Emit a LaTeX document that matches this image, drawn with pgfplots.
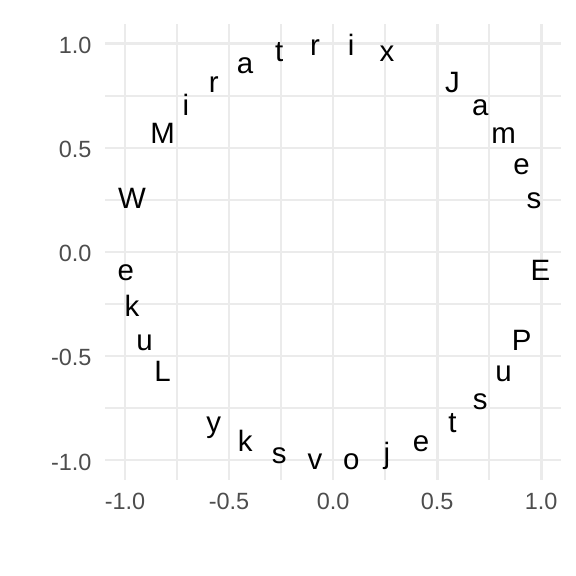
\documentclass[border=0pt]{standalone}
\usepackage{fontspec}
\setmainfont{Liberation Sans}
\usepackage{pgfplots}
\usepackage{pgfplotstable}
\pgfplotsset{compat=1.18}

\definecolor{gridgrey}{HTML}{EBEBEB}
\definecolor{textgrey}{HTML}{4D4D4D}

% Letters of the two names laid out clockwise on the unit circle, 10 degrees apart
\pgfplotstableread{
x y lab
-0.9659 0.2588 W
-0.8192 0.5736 M
-0.7071 0.7071 i
-0.5736 0.8192 r
-0.4226 0.9063 a
-0.2588 0.9659 t
-0.0872 0.9962 r
0.0872 0.9962 i
0.2588 0.9659 x
0.5736 0.8192 J
0.7071 0.7071 a
0.8192 0.5736 m
0.9063 0.4226 e
0.9659 0.2588 s
0.9962 -0.0872 E
0.9063 -0.4226 P
0.8192 -0.5736 u
0.7071 -0.7071 s
0.5736 -0.8192 t
0.4226 -0.9063 e
0.2588 -0.9659 j
0.0872 -0.9962 o
-0.0872 -0.9962 v
-0.2588 -0.9659 s
-0.4226 -0.9063 k
-0.5736 -0.8192 y
-0.8192 -0.5736 L
-0.9063 -0.4226 u
-0.9659 -0.2588 k
-0.9962 -0.0872 e
}\letters

\begin{document}
\begin{tikzpicture}
\begin{axis}[
  at={(0,0)}, anchor=south west,
  width=171pt, height=171pt, scale only axis,
  xmin=-1.0958, xmax=1.0958, ymin=-1.0958, ymax=1.0958,
  axis line style={draw=none},
  major tick length=0pt, minor tick length=0pt,
  xtick={-1,-0.5,0,0.5,1}, ytick={-1,-0.5,0,0.5,1},
  minor xtick={-0.75,-0.25,0.25,0.75}, minor ytick={-0.75,-0.25,0.25,0.75},
  xticklabels={-1.0,-0.5,0.0,0.5,1.0}, yticklabels={-1.0,-0.5,0.0,0.5,1.0},
  grid=both,
  major grid style={draw=gridgrey, line width=1.07pt},
  minor grid style={draw=gridgrey, line width=0.53pt},
  tick label style={font=\fontsize{8.8}{10}\selectfont, text=textgrey, inner sep=0pt},
  xticklabel style={anchor=north, yshift=-4.9pt},
  yticklabel style={anchor=east, xshift=-4.9pt, yshift=-0.7pt},
]
\addplot[draw=none, mark=none, nodes near coords, point meta=explicit symbolic,
  every node near coord/.append style={anchor=base, yshift=-3.95pt, inner sep=0pt,
    font=\fontsize{11.04}{13}\selectfont, text=black}]
  table[x=x, y=y, meta=lab] {\letters};
\end{axis}
\pgfresetboundingbox
\path[use as bounding box] (-39.4pt,-36pt) rectangle (176.6pt,180pt);
\end{tikzpicture}
\end{document}
